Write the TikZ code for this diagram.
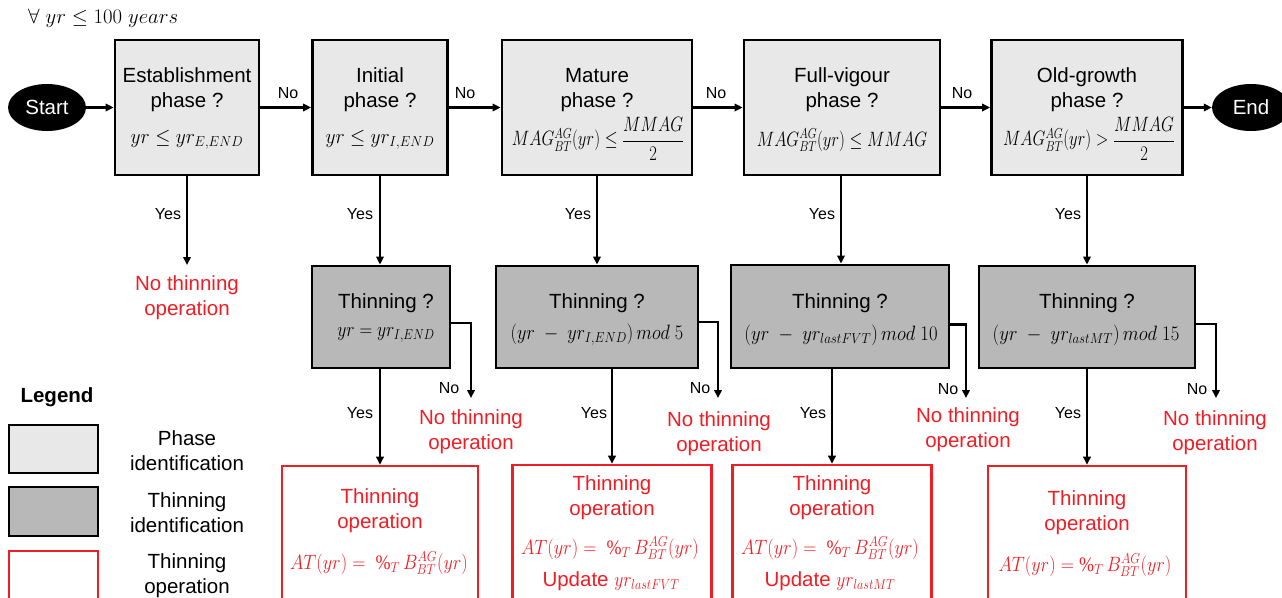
\documentclass[tikz,border=0pt]{standalone}
\usepackage{fontspec}
\setmainfont{Liberation Sans}
\newfontfamily\serifpct{Liberation Serif}
\usetikzlibrary{arrows.meta,shapes.geometric,calc}
\definecolor{lg}{RGB}{232,232,232}
\definecolor{dg}{RGB}{184,184,184}
\definecolor{rd}{RGB}{240,30,36}
\newcommand\hsq[2]{\scalebox{#1}[1]{#2}}
\newcommand\pct{\mbox{\serifpct\%}}
\begin{document}
\begin{tikzpicture}[x=1pt,y=-1pt,
  box/.style={draw=black, line width=2.8pt, inner sep=0pt},
  phasebox/.style={box, fill=lg},
  thinbox/.style={box, fill=dg},
  opbox/.style={draw=rd, line width=2.6pt, fill=white, inner sep=0pt},
  txt/.style={font=\fontsize{20.5}{25}\selectfont, inner sep=0pt, align=center},
  mth/.style={font=\fontsize{20.5}{24}\selectfont, inner sep=0pt},
  redtxt/.style={txt, text=rd},
  redmth/.style={mth, text=rd},
  lbl/.style={font=\fontsize{16}{19}\selectfont, inner sep=0pt},
  arr/.style={line width=2.2pt, -{Triangle[length=8pt,width=7.5pt]}},
  term/.style={ellipse, fill=black, text=white, minimum width=78pt, minimum height=47pt, inner sep=0pt, font=\fontsize{20.5}{25}\selectfont}
]
\useasboundingbox (0,0) rectangle (1282,597);
\fill[white] (0,0) rectangle (1282,597);

% title
\node[mth, font=\fontsize{21.5}{25}\selectfont, anchor=west] (title) at (28,18) {$\forall\ yr \le 100\ years$};

% terminals
\node[term] (start) at (47,107.5) {Start};
\node[term] (endn) at (1251,107.5) {End};

% phase boxes
\node[phasebox, minimum width=144pt, minimum height=135pt] (p1) at (187,107.5) {};
\node[phasebox, minimum width=135pt, minimum height=135pt] (p2) at (380,107.5) {};
\node[phasebox, minimum width=190pt, minimum height=135pt] (p3) at (597,107.5) {};
\node[phasebox, minimum width=196pt, minimum height=135pt] (p4) at (842,107.5) {};
\node[phasebox, minimum width=191pt, minimum height=135pt] (p5) at (1087,107.5) {};

\node[txt] (p1t) at (187,90) {Establishment\\phase ?};
\node[mth] (p1f) at (187,140) {\hsq{0.94}{$yr \le yr_{E,END}$}};
\node[txt] (p2t) at (380,90) {Initial\\phase ?};
\node[mth] (p2f) at (380,140) {\hsq{0.94}{$yr \le yr_{I,END}$}};
\node[txt] (p3t) at (597,90) {Mature\\phase ?};
\node[mth] (p3f) at (598,139) {\hsq{0.8}{$MAG_{BT}^{AG}(yr) \le \displaystyle\frac{MMAG}{2}$}};
\node[txt] (p4t) at (842,90) {Full-vigour\\phase ?};
\node[mth] (p4f) at (842,140) {\hsq{0.8}{$MAG_{BT}^{AG}(yr) \le MMAG$}};
\node[txt] (p5t) at (1087,90) {Old-growth\\phase ?};
\node[mth] (p5f) at (1089,139) {\hsq{0.8}{$MAG_{BT}^{AG}(yr) > \displaystyle\frac{MMAG}{2}$}};

% horizontal arrows
\draw[arr] (start.east) -- (start.east -| p1.west);
\draw[arr] (p1.east) -- (p2.west);
\draw[arr] (p2.east) -- (p3.west);
\draw[arr] (p3.east) -- (p4.west);
\draw[arr] (p4.east) -- (p5.west);
\draw[arr] (p5.east) -- (p5.east -| endn.west);
\node[lbl] (no1) at (288,93) {No};
\node[lbl] (no2) at (465,93) {No};
\node[lbl] (no3) at (716,93) {No};
\node[lbl] (no4) at (962,93) {No};

% thinning boxes
\node[thinbox, minimum width=138pt, minimum height=102pt] (t1) at (381,317) {};
\node[thinbox, minimum width=202pt, minimum height=102pt] (t2) at (597,317) {};
\node[thinbox, minimum width=218pt, minimum height=103pt] (t3) at (840,316.5) {};
\node[thinbox, minimum width=216pt, minimum height=102pt] (t4) at (1087,317) {};

\node[txt] (t1t) at (386,303) {Thinning ?};
\node[mth] (t1f) at (386,335) {\hsq{0.85}{$yr = yr_{I,END}$}};
\node[txt] (t2t) at (597,303) {Thinning ?};
\node[mth] (t2f) at (597,335) {\hsq{0.88}{$\left(yr\ -\ yr_{I,END}\right) mod\ 5$}};
\node[txt] (t3t) at (840,303) {Thinning ?};
\node[mth] (t3f) at (841,335) {\hsq{0.9}{$\left(yr\ -\ yr_{lastFVT}\right) mod\ 10$}};
\node[txt] (t4t) at (1087,303) {Thinning ?};
\node[mth] (t4f) at (1086,335) {\hsq{0.9}{$\left(yr\ -\ yr_{lastMT}\right) mod\ 15$}};

% phase -> down
\coordinate (c1) at (187,265);
\draw[arr] (p1.south) -- (c1);
\node[redtxt] (nt0) at (187,297.5) {No thinning\\operation};
\draw[arr] (p2.south) -- (p2.south |- t1.north);
\draw[arr] (p3.south) -- (p3.south |- t2.north);
\draw[arr] (p4.south -| 841,0) -- (t3.north -| 841,0);
\draw[arr] (p5.south -| t4.north) -- (t4.north);
\node[lbl] (y1) at (168,214) {Yes};
\node[lbl] (y2) at (360,214) {Yes};
\node[lbl] (y3) at (578,214) {Yes};
\node[lbl] (y4) at (822,214) {Yes};
\node[lbl] (y5) at (1068,214) {Yes};

% operation boxes
\node[opbox, minimum width=196pt, minimum height=154pt] (b1) at (380,543) {};
\node[opbox, minimum width=199pt, minimum height=154pt] (b2) at (612,542) {};
\node[opbox, minimum width=199pt, minimum height=154pt] (b3) at (832,542) {};
\node[opbox, minimum width=198pt, minimum height=154pt] (b4) at (1087,543) {};

\node[redtxt] (b1t) at (380,511) {Thinning\\operation};
\node[redmth] (b1f) at (379,563) {\hsq{0.88}{$AT(yr) =\ \pct_T\, B_{BT}^{AG}(yr)$}};
\node[redtxt] (b2t) at (612,497.5) {Thinning\\operation};
\node[redmth] (b2f) at (610,548) {\hsq{0.88}{$AT(yr) =\ \pct_T\, B_{BT}^{AG}(yr)$}};
\node[redtxt] (b2u) at (611,581) {Update \hsq{0.85}{$yr_{lastFVT}$}};
\node[redtxt] (b3t) at (832,497.5) {Thinning\\operation};
\node[redmth] (b3f) at (830,548) {\hsq{0.88}{$AT(yr) =\ \pct_T\, B_{BT}^{AG}(yr)$}};
\node[redtxt] (b3u) at (830,581) {Update \hsq{0.85}{$yr_{lastMT}$}};
\node[redtxt] (b4t) at (1087,512.5) {Thinning\\operation};
\node[redmth] (b4f) at (1085,565) {\hsq{0.88}{$AT(yr) = \pct_T\, B_{BT}^{AG}(yr)$}};

% yes arrows from thinning boxes
\draw[arr] (t1.south -| b1.north) -- (b1.north);
\draw[arr] (t2.south -| b2.north) -- (b2.north);
\draw[arr] (t3.south -| b3.north) -- (b3.north);
\draw[arr] (t4.south -| b4.north) -- (b4.north);
\node[lbl] (y6) at (360,413) {Yes};
\node[lbl] (y7) at (594,413) {Yes};
\node[lbl] (y8) at (813,413) {Yes};
\node[lbl] (y9) at (1068,413) {Yes};

% no branches from thinning boxes
\coordinate (nb1) at (471,398);
\coordinate (nb2) at (718,398);
\coordinate (nb3) at (966,398);
\coordinate (nb4) at (1216,398);
\draw[arr] ($(t1.east)+(0,6)$) -| (nb1);
\draw[arr] ($(t2.east)+(0,5)$) -| (nb2);
\draw[arr] ($(t3.east)+(0,8)$) -| (nb3);
\draw[arr] ($(t4.east)+(0,7)$) -| (nb4);
\node[lbl] (n1) at (449,388) {No};
\node[lbl] (n2) at (700,388) {No};
\node[lbl] (n3) at (948,389) {No};
\node[lbl] (n4) at (1197,389) {No};
\node[redtxt] (nt1) at (471,432) {No thinning\\operation};
\node[redtxt] (nt2) at (719,433.5) {No thinning\\operation};
\node[redtxt] (nt3) at (968,429.5) {No thinning\\operation};
\node[redtxt] (nt4) at (1215,432.5) {No thinning\\operation};

% legend
\node[font=\bfseries\fontsize{20.5}{25}\selectfont, inner sep=0pt] (leg) at (57,397) {Legend};
\node[phasebox, minimum width=89pt, minimum height=48pt] (lb1) at (53.5,449) {};
\node[thinbox, minimum width=89pt, minimum height=49pt] (lb2) at (53.5,511.5) {};
\node[opbox, minimum width=89pt, minimum height=69pt] (lb3) at (53.5,585.5) {};
\node[txt] (lt1) at (187,451) {Phase\\identification};
\node[txt] (lt2) at (187,512.5) {Thinning\\identification};
\node[txt] (lt3) at (187,575.5) {Thinning\\operation};
\end{tikzpicture}
\end{document}
